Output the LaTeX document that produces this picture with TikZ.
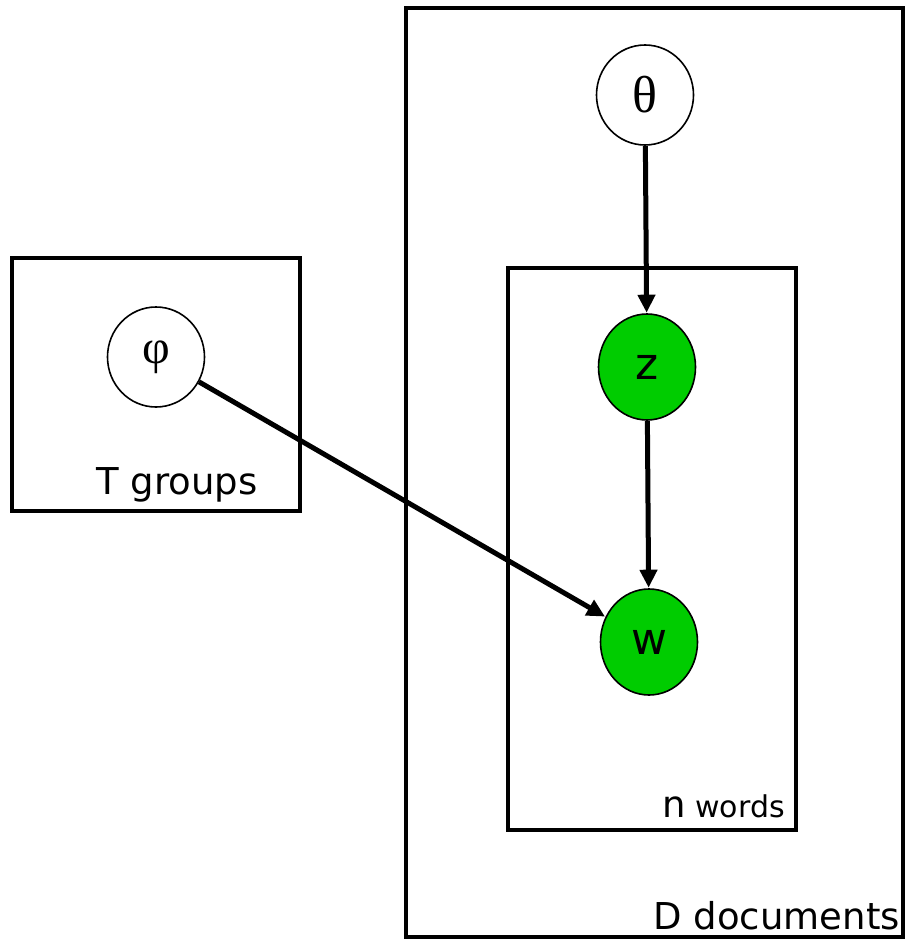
\documentclass[tikz,border=0pt]{standalone}
\usepackage{fontspec}
\setmainfont{DejaVu Sans}
\newfontfamily\greekfont{Liberation Serif}
\usetikzlibrary{arrows.meta,shapes.geometric}
\definecolor{obsgreen}{RGB}{0,204,0}
\tikzset{
  plate/.style={draw=black, line width=3.4pt},
  latent/.style={ellipse, draw=black, line width=1.6pt, fill=white,
    minimum width=97pt, minimum height=100pt, inner sep=0pt},
  observed/.style={latent, fill=obsgreen, minimum height=106pt},
  dep/.style={line width=5pt, -{Triangle[length=18pt,width=17pt]}, shorten >=0.5pt},
  platelabel/.style={inner sep=0pt, font=\fontsize{37}{40}\selectfont},
}
\begin{document}
\begin{tikzpicture}[x=1pt,y=-1pt]
  \useasboundingbox (0,0) rectangle (905,939);
  % plates
  \draw[plate] (406,8) rectangle (903,937);
  \draw[plate] (508,268) rectangle (796,830);
  \draw[plate] (12,258) rectangle (300,511);
  % variables
  \node[latent] (theta) at (645,95) {\greekfont\fontsize{52}{52}\selectfont θ};
  \node[latent] (phi) at (156,357) {\greekfont\fontsize{48}{48}\selectfont φ};
  \node[observed] (z) at (647,367) {\fontsize{44}{44}\selectfont z};
  \node[observed] (w) at (649,642) {\fontsize{44}{44}\selectfont w};
  % dependencies
  \draw[dep] (theta) -- (z);
  \draw[dep] (z) -- (w);
  \draw[dep] (phi) -- (w);
  % plate labels
  \node[platelabel, anchor=base west] (tlab) at (96,494) {T groups};
  \node[platelabel, anchor=base east] (dlab) at (900,929) {D documents};
  \node[inner sep=0pt, anchor=base east] (nlab) at (785,817)
    {\fontsize{37}{40}\selectfont n\fontsize{30}{32}\selectfont\ words};
\end{tikzpicture}
\end{document}
